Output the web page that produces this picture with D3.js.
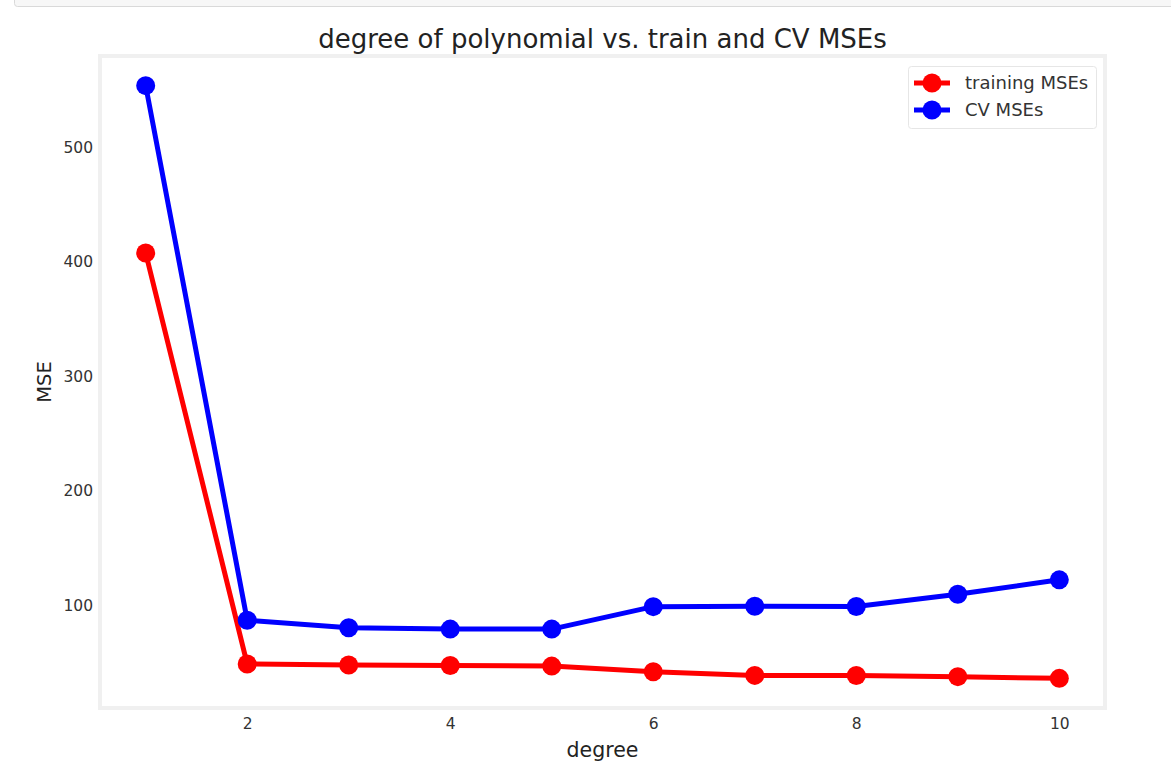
<!DOCTYPE html>
<html>
<head>
<meta charset="utf-8">
<script src="https://cdn.jsdelivr.net/npm/d3@7"></script>
<style>
  html, body { margin: 0; padding: 0; background: #fff; }
  svg { display: block; font-family: "DejaVu Sans", sans-serif; }
</style>
</head>
<body>
<svg id="chart" width="1171" height="778"></svg>
<script>
const degrees = [1, 2, 3, 4, 5, 6, 7, 8, 9, 10];
const trainingMSEs = [407.7, 48.9, 48.0, 47.6, 47.1, 42.2, 39.0, 38.9, 37.9, 36.4];
const cvMSEs = [553.8, 87.2, 80.6, 79.4, 79.4, 99.0, 99.3, 99.2, 109.8, 122.4];
const xTicks = [2, 4, 6, 8, 10];
const yTicks = [100, 200, 300, 400, 500];
const seriesNames = ["training MSEs", "CV MSEs"];
const seriesColors = ["#ff0000", "#0000ff"];
const titleText = "degree of polynomial vs. train and CV MSEs";
const xLabel = "degree";
const yLabel = "MSE";

const svg = d3.select("#chart");
const m = { left: 100, right: 1105, top: 56, bottom: 708 };

// notebook output cell box at top
svg.append("rect")
  .attr("x", 14.5).attr("y", -20.5).attr("width", 1200).attr("height", 27)
  .attr("rx", 3).attr("fill", "#f7f7f7").attr("stroke", "#d9d9d9").attr("stroke-width", 1);

// autoscale with 5% margins like matplotlib
const xMin = d3.min(degrees), xMax = d3.max(degrees);
const xPad = (xMax - xMin) * 0.05;
const allY = trainingMSEs.concat(cvMSEs);
const yMin = d3.min(allY), yMax = d3.max(allY);
const yPad = (yMax - yMin) * 0.05;

const x = d3.scaleLinear().domain([xMin - xPad, xMax + xPad]).range([m.left, m.right]);
const y = d3.scaleLinear().domain([yMin - yPad, yMax + yPad]).range([m.bottom, m.top]);

// axes frame
svg.append("rect")
  .attr("x", m.left).attr("y", m.top)
  .attr("width", m.right - m.left).attr("height", m.bottom - m.top)
  .attr("fill", "#ffffff").attr("stroke", "#f0f0f0").attr("stroke-width", 4);

// x axis
const xAxis = d3.axisBottom(x).tickValues(xTicks).tickSize(0).tickPadding(10).tickFormat(d3.format("d"));
const gx = svg.append("g").attr("transform", `translate(0,${m.bottom})`).call(xAxis);
gx.select(".domain").remove();
gx.selectAll("text").attr("font-size", 15.5).attr("fill", "#333").attr("font-family", "DejaVu Sans");

// y axis
const yAxis = d3.axisLeft(y).tickValues(yTicks).tickSize(0).tickPadding(7).tickFormat(d3.format("d"));
const gy = svg.append("g").attr("transform", `translate(${m.left},0)`).call(yAxis);
gy.select(".domain").remove();
gy.selectAll("text").attr("font-size", 15.5).attr("fill", "#333").attr("font-family", "DejaVu Sans");

// lines
const series = [trainingMSEs, cvMSEs];
const line = d3.line().x((d, i) => x(degrees[i])).y(d => y(d));
series.forEach((vals, si) => {
  const g = svg.append("g");
  g.append("path").datum(vals)
    .attr("d", line).attr("fill", "none")
    .attr("stroke", seriesColors[si]).attr("stroke-width", 5)
    .attr("stroke-linejoin", "round").attr("stroke-linecap", "butt");
  g.selectAll("circle").data(vals).enter().append("circle")
    .attr("cx", (d, i) => x(degrees[i])).attr("cy", d => y(d))
    .attr("r", 9.5).attr("fill", seriesColors[si]);
});

// title and labels
svg.append("text").attr("x", (m.left + m.right) / 2).attr("y", 48)
  .attr("text-anchor", "middle").attr("font-size", 26).attr("fill", "#222").text(titleText);
svg.append("text").attr("x", (m.left + m.right) / 2).attr("y", 757)
  .attr("text-anchor", "middle").attr("font-size", 20.5).attr("fill", "#222").text(xLabel);
svg.append("text").attr("transform", `translate(51,${(m.top + m.bottom) / 2}) rotate(-90)`)
  .attr("text-anchor", "middle").attr("font-size", 19.5).attr("fill", "#222").text(yLabel);

// legend
const lg = svg.append("g").attr("transform", "translate(908,66)");
lg.append("rect").attr("x", 0.5).attr("y", 0.5).attr("width", 188).attr("height", 62)
  .attr("rx", 3).attr("fill", "#ffffff").attr("stroke", "#e6e6e6");
seriesNames.forEach((name, i) => {
  const cy = 17 + i * 27;
  lg.append("line").attr("x1", 6).attr("x2", 42).attr("y1", cy).attr("y2", cy)
    .attr("stroke", seriesColors[i]).attr("stroke-width", 5);
  lg.append("circle").attr("cx", 24).attr("cy", cy).attr("r", 9.5).attr("fill", seriesColors[i]);
  lg.append("text").attr("x", 57).attr("y", cy).attr("dy", "0.35em")
    .attr("font-size", 18).attr("fill", "#333").text(name);
});
</script>
</body>
</html>
